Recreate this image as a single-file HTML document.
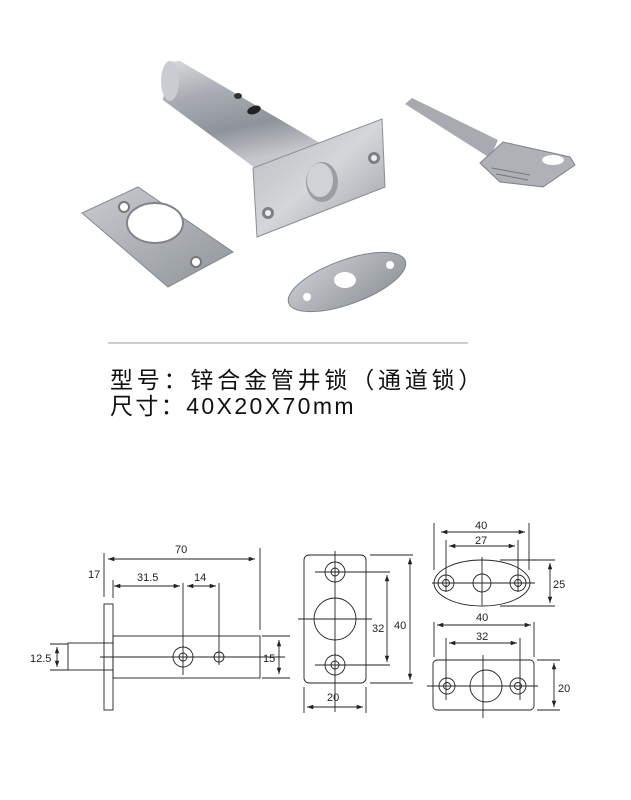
<!DOCTYPE html>
<html><head><meta charset="utf-8"><style>
html,body{margin:0;padding:0;background:#fff;width:631px;height:800px;overflow:hidden}
svg{display:block}
.t{font-family:"Liberation Sans","Noto Sans CJK SC",sans-serif}
</style></head><body>
<svg width="631" height="800" viewBox="0 0 631 800" xmlns="http://www.w3.org/2000/svg">
<defs>
<linearGradient id="tube" x1="0" y1="0" x2="0.3" y2="1">
<stop offset="0" stop-color="#d8dadd"/><stop offset="0.35" stop-color="#a9adb3"/><stop offset="0.7" stop-color="#8e939a"/><stop offset="1" stop-color="#c4c7cb"/></linearGradient>
<linearGradient id="plate" x1="0" y1="0" x2="1" y2="1">
<stop offset="0" stop-color="#b8bbc0"/><stop offset="0.5" stop-color="#d4d6d9"/><stop offset="1" stop-color="#9a9ea4"/></linearGradient>
<linearGradient id="sp" x1="0" y1="0" x2="1" y2="1">
<stop offset="0" stop-color="#c9ccd0"/><stop offset="1" stop-color="#8f949a"/></linearGradient>
<marker id="a" viewBox="0 0 10 10" refX="10" refY="5" markerWidth="7" markerHeight="7" orient="auto-start-reverse"><path d="M0,1.5 L10,5 L0,8.5z" fill="#222"/></marker>
</defs>
<!-- photo -->
<polygon points="168,62 180,61 320,143 255,168 163,100" fill="url(#tube)"/>
<ellipse cx="170" cy="81" rx="9" ry="20" fill="#c9ccd0"/>
<ellipse cx="238" cy="96" rx="4" ry="3" fill="#333"/>
<ellipse cx="254" cy="110" rx="7" ry="4" fill="#222" transform="rotate(-20 254 110)"/>
<polygon points="253,168 382,119 385,187 257,237" fill="url(#plate)" stroke="#8a8e94" stroke-width="1"/>
<ellipse cx="322" cy="182" rx="16" ry="20" fill="#9a9ea4"/>
<ellipse cx="320" cy="180" rx="13" ry="17" fill="#d0d2d5"/>
<circle cx="268" cy="213" r="6" fill="#7c8087"/><circle cx="268" cy="213" r="3" fill="#eee"/>
<circle cx="374" cy="158" r="6" fill="#7c8087"/><circle cx="374" cy="158" r="3" fill="#eee"/>
<polygon points="82,213 138,187 233,252 168,287" fill="url(#sp)" stroke="#868a90"/>
<ellipse cx="155" cy="223" rx="28" ry="20" fill="#fff" stroke="#80848a" stroke-width="2"/>
<circle cx="124" cy="207" r="5" fill="#fff" stroke="#777" stroke-width="2"/>
<circle cx="196" cy="262" r="5" fill="#fff" stroke="#777" stroke-width="2"/>
<ellipse cx="347" cy="282" rx="62" ry="22" transform="rotate(-20 347 282)" fill="url(#sp)" stroke="#7f838a"/>
<ellipse cx="345" cy="280" rx="11" ry="8" fill="#fff"/>
<circle cx="307" cy="297" r="4" fill="#fff"/><circle cx="390" cy="265" r="4" fill="#fff"/>
<polygon points="405,104 412,98 498,140 490,158" fill="#a7abb1"/>
<polygon points="480,163 503,142 570,157 575,165 543,187 500,182" fill="#aeb2b7" stroke="#7d8188"/>
<ellipse cx="553" cy="160" rx="11" ry="5" fill="#fff"/>
<line x1="492" y1="168" x2="530" y2="175" stroke="#777"/><line x1="496" y1="174" x2="528" y2="180" stroke="#777"/>
<!-- separator & text -->
<line x1="108" y1="343" x2="468" y2="343" stroke="#999" stroke-width="1"/>
<text x="110" y="388" class="t" font-size="23" fill="#111" letter-spacing="3.8">型号：锌合金管井锁（通道锁）</text>
<text x="110" y="414" class="t" font-size="23" fill="#111" letter-spacing="2.4">尺寸：40X20X70mm</text>
<!-- drawing 1 -->
<g stroke="#222" stroke-width="0.9" fill="none">
<line x1="104" y1="553" x2="104" y2="597"/><line x1="260" y1="548" x2="260" y2="630"/>
<line x1="108" y1="559" x2="255" y2="559" marker-start="url(#a)" marker-end="url(#a)"/>
<line x1="113" y1="580" x2="113" y2="598"/><line x1="183" y1="583" x2="183" y2="675"/><line x1="219" y1="583" x2="219" y2="665"/>
<line x1="114" y1="586" x2="180" y2="586" marker-start="url(#a)" marker-end="url(#a)"/>
<line x1="187" y1="586" x2="216" y2="586" marker-start="url(#a)" marker-end="url(#a)"/>
<rect x="104" y="604" width="9" height="106"/>
<rect x="113" y="636" width="147" height="42"/>
<rect x="68" y="643" width="45" height="27"/>
<line x1="100" y1="657" x2="285" y2="657"/>
<circle cx="183" cy="657" r="10"/><circle cx="183" cy="657" r="4"/><circle cx="219" cy="657" r="5"/>
<line x1="262" y1="636" x2="290" y2="636"/><line x1="262" y1="678" x2="290" y2="678"/>
<line x1="279" y1="640" x2="279" y2="674" marker-start="url(#a)" marker-end="url(#a)"/>
<line x1="50" y1="644" x2="68" y2="644"/><line x1="50" y1="670" x2="68" y2="670"/>
<line x1="57" y1="647" x2="57" y2="667" marker-start="url(#a)" marker-end="url(#a)"/>
</g>
<g class="t" font-size="11" fill="#222">
<text x="175" y="553">70</text><text x="88" y="578">17</text><text x="137" y="581">31.5</text><text x="194" y="581">14</text>
<text x="263" y="662">15</text><text x="30" y="662">12.5</text>
</g>
<!-- drawing 2 -->
<g stroke="#222" stroke-width="0.9" fill="none">
<rect x="304" y="555" width="62" height="128" rx="5"/>
<line x1="335" y1="551" x2="335" y2="712"/>
<circle cx="335" cy="572" r="10"/><circle cx="335" cy="572" r="4"/>
<circle cx="335" cy="665" r="10"/><circle cx="335" cy="665" r="4"/>
<circle cx="335" cy="619" r="21"/>
<line x1="315" y1="572" x2="390" y2="572"/><line x1="298" y1="619" x2="372" y2="619"/><line x1="315" y1="665" x2="390" y2="665"/>
<line x1="387" y1="575" x2="387" y2="662" marker-start="url(#a)" marker-end="url(#a)"/>
<line x1="370" y1="555" x2="413" y2="555"/><line x1="370" y1="683" x2="413" y2="683"/>
<line x1="410" y1="558" x2="410" y2="680" marker-start="url(#a)" marker-end="url(#a)"/>
<line x1="304" y1="687" x2="304" y2="713"/><line x1="366" y1="687" x2="366" y2="713"/>
<line x1="307" y1="707" x2="363" y2="707" marker-start="url(#a)" marker-end="url(#a)"/>
<!-- oval -->
<ellipse cx="482" cy="583" rx="48" ry="23"/>
<circle cx="446" cy="583" r="8"/><circle cx="446" cy="583" r="3.5"/>
<circle cx="518" cy="583" r="8"/><circle cx="518" cy="583" r="3.5"/>
<circle cx="482" cy="583" r="9"/>
<line x1="434" y1="523" x2="434" y2="570"/><line x1="529" y1="523" x2="529" y2="570"/>
<line x1="441" y1="532" x2="525" y2="532" marker-start="url(#a)" marker-end="url(#a)"/>
<line x1="446" y1="540" x2="446" y2="592"/><line x1="518" y1="540" x2="518" y2="592"/>
<line x1="449" y1="546" x2="515" y2="546" marker-start="url(#a)" marker-end="url(#a)"/>
<line x1="482" y1="557" x2="482" y2="605"/><line x1="432" y1="583" x2="535" y2="583"/>
<line x1="500" y1="560" x2="555" y2="560"/><line x1="500" y1="606" x2="555" y2="606"/>
<line x1="550" y1="563" x2="550" y2="603" marker-start="url(#a)" marker-end="url(#a)"/>
<!-- rect2 -->
<rect x="433" y="660" width="101" height="50" rx="4"/>
<circle cx="447" cy="686" r="8"/><circle cx="447" cy="686" r="3.5"/>
<circle cx="518" cy="686" r="8"/><circle cx="518" cy="686" r="3.5"/>
<circle cx="486" cy="686" r="16"/>
<line x1="434" y1="622" x2="434" y2="657"/><line x1="534" y1="622" x2="534" y2="657"/>
<line x1="437" y1="625" x2="531" y2="625" marker-start="url(#a)" marker-end="url(#a)"/>
<line x1="446" y1="638" x2="446" y2="700"/><line x1="520" y1="638" x2="520" y2="700"/>
<line x1="449" y1="643" x2="517" y2="643" marker-start="url(#a)" marker-end="url(#a)"/>
<line x1="483" y1="655" x2="483" y2="718"/><line x1="427" y1="686" x2="538" y2="686"/>
<line x1="537" y1="660" x2="560" y2="660"/><line x1="537" y1="710" x2="560" y2="710"/>
<line x1="554" y1="663" x2="554" y2="707" marker-start="url(#a)" marker-end="url(#a)"/>
</g>
<g class="t" font-size="11" fill="#222">
<text x="372" y="632">32</text><text x="394" y="629">40</text><text x="327" y="701">20</text>
<text x="475" y="529">40</text><text x="475" y="544">27</text><text x="553" y="588">25</text>
<text x="476" y="621">40</text><text x="476" y="640">32</text><text x="558" y="692">20</text>
</g>
</svg>
</body></html>
